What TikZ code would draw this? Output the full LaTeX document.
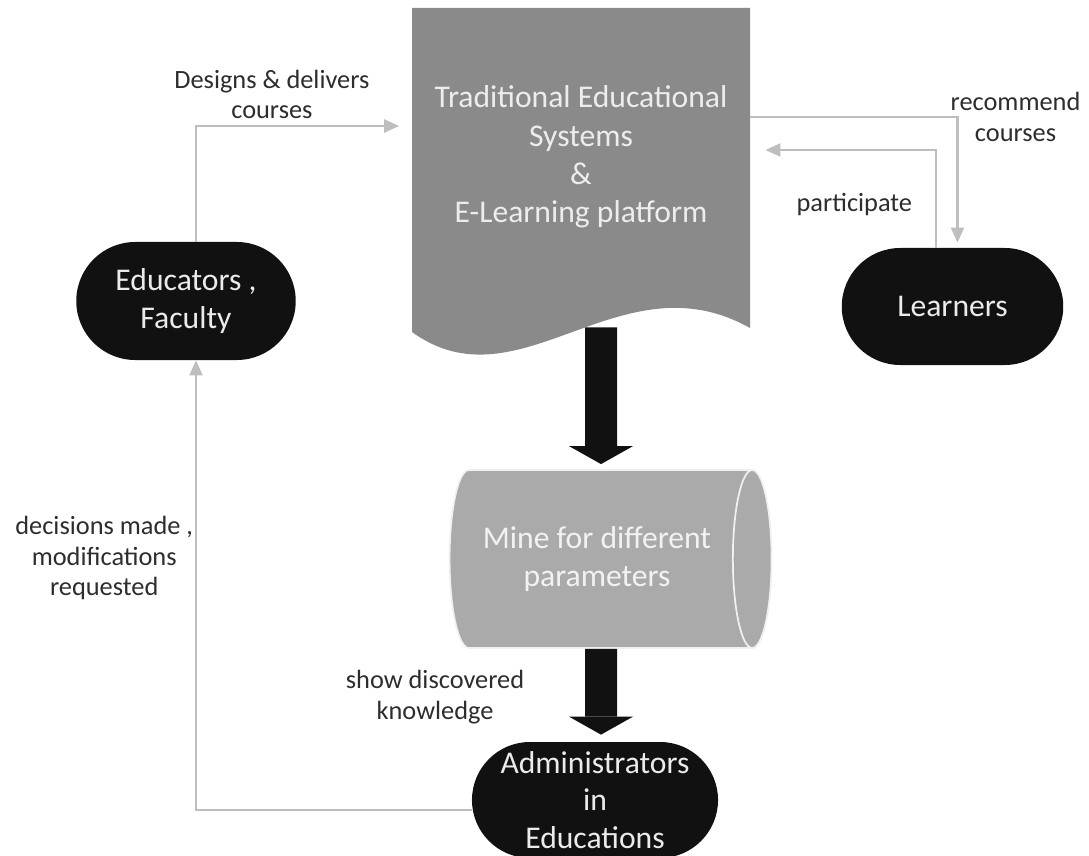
\documentclass[tikz,border=0pt]{standalone}
\usepackage{fontspec}
\setmainfont{Carlito}
\definecolor{docgray}{RGB}{138,138,138}
\definecolor{minegray}{RGB}{170,170,170}
\definecolor{linegray}{RGB}{190,190,190}
\definecolor{labelgray}{RGB}{45,45,45}
\definecolor{actorblack}{RGB}{17,17,17}
\usetikzlibrary{arrows.meta, positioning, shapes.geometric, shapes.misc}

\begin{document}
\begin{tikzpicture}[
  actor/.style={rounded rectangle, fill=actorblack, text=white!92!black, align=center, inner sep=1pt, font=\fontsize{18}{21.5}\selectfont},
  flow/.style={-{Triangle[length=0.3cm, width=0.26cm]}, linegray, line width=1.2pt},
  bigarrow/.style={-{Triangle[length=0.36cm, width=1.28cm, line width=0pt]}, actorblack, line width=0.64cm},
  lbl/.style={text=labelgray, align=center, font=\fontsize{15}{17.5}\selectfont}
]
  \useasboundingbox (0,0) rectangle (21.78,-17.12);

  % platform: a document with a wavy foot
  \fill[docgray] (8.24,-0.16) -- (15.0,-0.16) -- (15.0,-6.56)
    .. controls (12.4,-5.1) and (10.4,-8.2) .. (8.24,-6.64) -- cycle;
  \node (trad) [minimum width=6.76cm, minimum height=5.96cm, align=center,
    text=white!93!black, font=\fontsize{18}{21.8}\selectfont] at (11.62,-3.14)
    {Traditional Educational\\Systems\\\&\\E-Learning platform};

  \node (mine) [cylinder, aspect=0.5, minimum width=3.56cm, minimum height=6.44cm,
    fill=minegray, draw=white!94!black, line width=1pt, align=center,
    text=white!95!black, font=\fontsize{18}{22}\selectfont] at (11.94,-11.18)
    {Mine for different\\parameters};

  \node (edu) [actor, minimum width=4.46cm, minimum height=2.36cm] at (3.72,-6.02) {Educators ,\\Faculty};
  \node (learn) [actor, minimum width=4.5cm, minimum height=2.34cm] at (19.05,-6.13) {Learners};
  \node (admin) [actor, minimum width=4.92cm, minimum height=2.32cm] at (11.9,-16.0) {Administrators\\in\\Educations};

  % thin feedback lines
  \draw[flow, shorten >=2.5mm] ([xshift=2mm]edu.north) |- ([yshift=6.2mm]trad.west)
    node[lbl, above, pos=0.676] {Designs \& delivers\\courses};
  \draw[flow, shorten >=1mm] ([yshift=8mm]trad.east) -| ([xshift=1mm]learn.north)
    node[lbl, pos=0.5, xshift=1.16cm] {recommend\\courses};
  \draw[flow, shorten >=3mm] ([xshift=-3.3mm]learn.north) |- ([yshift=1.4mm]trad.east)
    node[lbl, pos=0.22, anchor=east, xshift=-3.4mm] {participate};
  \draw[flow] ([yshift=-2mm]admin.west) -| ([xshift=2mm]edu.south)
    node[lbl, pos=0.78, anchor=east, xshift=0.8mm] {decisions made ,\\modifications\\requested};

  % main data flow
  \draw[bigarrow] ([xshift=4mm,yshift=-4.2mm]trad.south) -- ([xshift=0.8mm,yshift=1mm]mine.north);
  \draw[bigarrow] ([xshift=0.8mm]mine.south) -- ([xshift=1.2mm,yshift=1.4mm]admin.north)
    node[lbl, midway, anchor=east, xshift=-1.1cm, yshift=-1mm] {show discovered\\knowledge};
\end{tikzpicture}
\end{document}
